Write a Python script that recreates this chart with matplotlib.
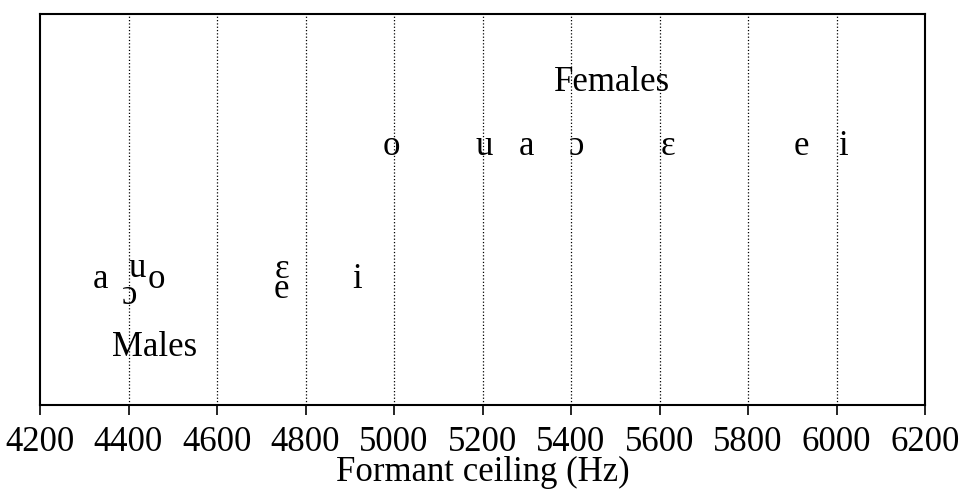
import matplotlib
matplotlib.use("Agg")
import matplotlib.pyplot as plt

plt.rcParams["font.family"] = ["Liberation Serif", "DejaVu Serif"]

# vowel positions (x = formant ceiling in Hz, y = row height 0..1)
female_vowels = ["o", "u", "a", "ɔ", "ɛ", "e", "i"]
female_hz = [4995, 5205, 5299, 5413, 5618, 5921, 6014]
female_y = [0.660, 0.660, 0.660, 0.660, 0.660, 0.660, 0.660]

male_vowels = ["a", "ɔ", "u", "o", "ɛ", "e", "i"]
male_hz = [4336, 4402, 4419, 4462, 4746, 4746, 4916]
male_y = [0.322, 0.280, 0.350, 0.322, 0.347, 0.295, 0.322]

group_labels = ["Females", "Males"]
group_hz = [5493, 4460]
group_y = [0.825, 0.148]

xticks = [4200, 4400, 4600, 4800, 5000, 5200, 5400, 5600, 5800, 6000, 6200]
gridlines = [4400, 4600, 4800, 5000, 5200, 5400, 5600, 5800, 6000]

fs = 25

fig = plt.figure(figsize=(9.6, 4.9), dpi=100)
ax = fig.add_axes([40 / 960, 85 / 490, 885 / 960, 391 / 490])

for g in gridlines:
    ax.axvline(g, color="black", linestyle=":", linewidth=0.9, zorder=0)

for v, x, y in zip(female_vowels, female_hz, female_y):
    ax.text(x, y, v, ha="center", va="center", fontsize=fs)
for v, x, y in zip(male_vowels, male_hz, male_y):
    ax.text(x, y, v, ha="center", va="center", fontsize=fs)
for lab, x, y in zip(group_labels, group_hz, group_y):
    ax.text(x, y, lab, ha="center", va="center", fontsize=fs)

ax.set_xlim(4200, 6200)
ax.set_ylim(0, 1)
ax.set_xticks(xticks)
ax.set_xticklabels([str(t) for t in xticks], fontsize=fs)
ax.set_yticks([])
ax.tick_params(axis="x", direction="out", length=7, width=1.2, pad=8)
for sp in ax.spines.values():
    sp.set_linewidth(1.5)
ax.set_xlabel("Formant ceiling (Hz)", fontsize=fs, labelpad=-2)

fig.savefig("out.png", dpi=100)
